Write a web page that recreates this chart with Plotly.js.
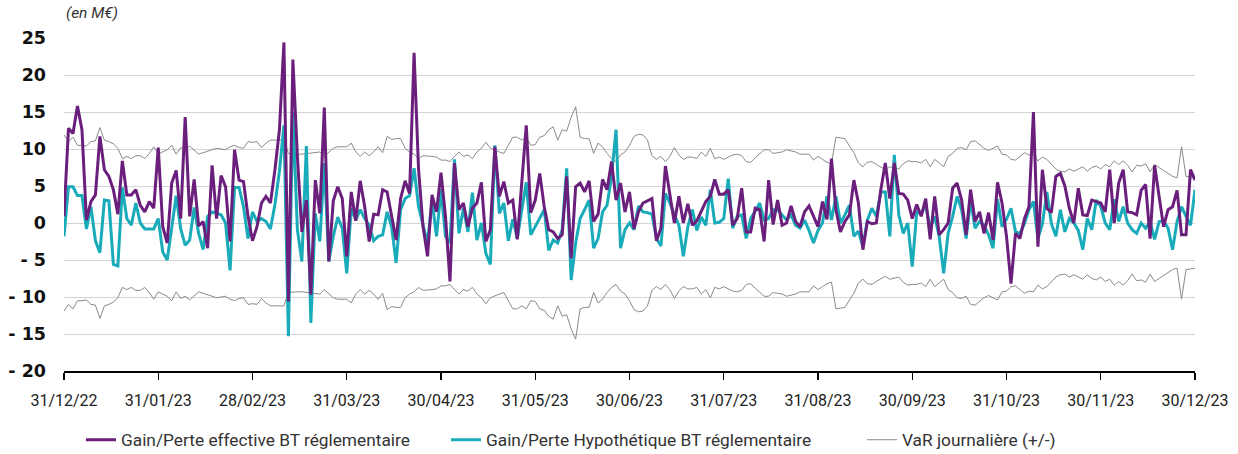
<!DOCTYPE html>
<html>
<head>
<meta charset="utf-8">
<script src="https://cdn.plot.ly/plotly-3.0.1.min.js"></script>
<style>
  html, body { margin: 0; padding: 0; background: #ffffff; }
  #chart { width: 1238px; height: 454px; }
</style>
</head>
<body>
<div id="chart"></div>
<script>
// ---- DATA (in M€), one value per business day, 31/12/22 -> 30/12/23 ----
const xTickLabels = ["31/12/22", "31/01/23", "28/02/23", "31/03/23", "30/04/23", "31/05/23",
  "30/06/23", "31/07/23", "31/08/23", "30/09/23", "31/10/23", "30/11/23", "30/12/23"];

const yTickValues = [25, 20, 15, 10, 5, 0, -5, -10, -15, -20];
const yTickLabels = ["25", "20", "15", "10", "5", "0", "- 5", "- 10", "- 15", "- 20"];

const seriesNames = ["Gain/Perte effective BT réglementaire",
  "Gain/Perte Hypothétique BT réglementaire",
  "VaR journalière (+/-)"];

const gainEffective = [
  0.9, 12.8, 12.1, 15.8, 12.6, 0.4, 2.9, 3.8, 11.7, 7.2, 6.3, 4.5, 1.2, 8.4, 3.8, 3.8,
  4.5, 2.4, 1.5, 2.9, 2.0, 10.2, -0.5, -2.7, 5.4, 7.1, 0.6, 14.3, 0.9, 5.9, -0.4, 0.2,
  -3.4, 7.8, 0.6, 6.4, 4.9, -2.5, 9.9, 5.8, 5.6, 0.9, -2.4, -0.5, 2.7, 3.6, 2.7, 7.2,
  12.6, 24.4, -10.6, 22.1, 9.0, -1.2, 3.1, -9.7, 5.8, 1.3, 15.6, -5.2, 3.0, 4.9, 3.3, -4.5,
  4.2, 0.3, 5.7, 2.2, -2.5, 1.2, 1.1, 4.5, 4.2, 0.9, -2.3, 3.3, 5.7, 4.0, 23.0, 7.2,
  -0.5, -4.5, 3.8, 1.5, 6.8, 0.9, -7.9, 8.1, 1.8, 2.7, -0.5, 2.0, 2.7, 5.5, -2.5, -0.9,
  10.3, 3.6, 5.6, 2.7, 3.1, -2.2, 5.4, 13.2, 1.4, 3.1, 6.7, 2.2, -0.9, -1.2, -2.1, -1.6,
  6.3, -4.8, 4.9, 5.4, 4.2, 5.7, 0.2, 1.2, 5.9, 4.5, 8.3, 3.1, 5.4, 1.5, 4.2, -0.8,
  1.5, 2.7, 3.0, 3.3, -2.4, -0.7, 7.7, 4.0, 0.0, 3.6, 0.0, 2.6, -0.3, 0.3, 1.5, 2.9,
  3.6, 5.9, 3.9, 3.9, 4.5, -0.3, 0.6, 4.7, -1.2, -1.2, 2.0, 1.8, -2.5, 5.8, -0.2,
  3.1, -0.3, 0.0, 2.3, 0.2, -0.5, 1.5, 2.3, 1.0, -0.5, 2.9, 0.5, 8.7, 1.8, -1.2, 0.2,
  1.1, 5.8, 2.7, -3.6, 0.2, -0.1, 0.0, 4.5, 8.1, 3.3, 8.1, 4.0, 3.9, 3.1, 0.6, 2.5,
  0.9, 3.3, -2.2, 3.6, -1.6, -0.9, 0.0, 4.7, 5.4, 3.1, -1.6, 4.5, 0.2, 1.5, -1.4, 1.4,
  -2.3, 5.5, 2.7, -1.8, -8.2, -1.4, -2.1, 0.6, 2.2, 15.0, -3.2, 7.2, 2.0, 1.4, 6.3,
  6.7, 5.0, 2.0, 0.0, 4.7, 1.1, 1.0, 3.1, 2.9, 2.7, 1.5, 7.2, 0.0, 5.4, 7.2, 1.5,
  1.4, 1.1, 4.4, 5.2, -2.1, 7.8, 3.6, -0.5, 1.8, 2.2, 4.4, -1.6, -1.6, 7.2, 5.8
];

const gainHypothetique = [
  -1.8, 4.9, 4.9, 3.7, 3.7, -0.8, 2.2, -2.4, -4.0, 3.1, 3.0, -5.6, -5.8, 4.8, 0.6, -0.3,
  2.7, 0.0, -0.8, -0.8, -0.8, 0.6, -3.9, -5.0, -0.9, 3.7, -0.8, -3.0, -2.3, 2.1, -1.4, -3.6,
  0.9, 1.5, 1.3, 1.1, 0.0, -6.4, 4.8, 4.8, 2.2, -2.1, 1.5, 0.2, 0.6, 0.2, -0.8, 2.5,
  7.0, 13.2, -15.3, 15.0, -0.9, -5.2, 10.4, -13.5, 1.3, -2.5, 8.1, -5.2, -1.8, 0.8, -0.7, -6.8,
  2.0, 0.4, 1.8, 0.6, -0.3, -2.4, -1.8, -1.6, 1.5, -0.5, -5.4, 1.8, 3.3, 3.7, 7.4, 2.2,
  -0.3, -2.7, 3.1, -1.8, 4.5, -1.8, -2.7, 8.6, -1.4, 2.0, -1.2, 4.1, -2.3, 0.0, -4.1, -5.6,
  10.5, 1.3, 2.7, -2.4, 0.5, -2.1, 1.8, 5.5, -1.6, -0.5, 0.8, 1.8, -3.7, -2.3, -2.7, -0.9,
  7.4, -7.7, -2.7, 0.6, 1.8, 3.1, -3.4, -2.1, 1.5, 2.4, 6.3, 12.6, -3.4, -0.9, 0.0, -0.9,
  2.3, 1.5, 1.4, 1.2, -2.1, -3.1, 4.0, 2.7, 1.1, -0.3, -4.5, -0.5, 1.8, -1.0, 0.8, -0.3,
  4.5, 0.0, 0.1, 0.6, 6.0, -0.7, 0.9, 1.1, -2.1, 0.6, 1.6, 2.7, 0.4, 0.6, 1.8,
  1.8, 1.1, 0.4, 1.1, -0.3, -0.7, 0.4, -1.0, -2.7, -1.0, 0.0, 3.6, 0.4, 3.6, 0.0, 1.1,
  2.4, -1.8, -1.1, -3.2, 0.4, 2.0, 0.9, 4.2, 4.2, -1.8, 9.2, 1.1, -1.4, 0.0, -5.9, 1.5,
  1.3, 2.4, -0.7, 0.9, -1.8, -6.8, -1.4, 0.9, 3.6, 1.8, -2.1, 3.1, -0.7, 0.2, -0.3, -1.6,
  -3.4, 3.2, -0.5, 0.5, 2.0, -1.2, -1.4, -0.1, 1.8, 2.9, -2.1, -0.1, 4.2, -0.1, -1.8,
  1.8, -1.2, 0.6, 0.0, -1.0, -3.6, 0.6, -0.9, 3.1, 2.2, 0.0, -0.9, 3.2, 0.2, 2.2, 0.0,
  -0.9, -1.4, 0.0, -0.7, 0.2, -2.2, 0.2, 0.3, -0.7, -3.6, 0.2, 2.2, 0.9, -0.3, 4.5
];

const varJournaliere = [
  11.9, 11.0, 11.6, 10.5, 10.5, 10.4, 11.0, 11.1, 12.9, 11.2, 11.0, 10.7, 10.1, 8.7, 9.0, 8.7,
  9.1, 9.1, 8.7, 9.4, 10.3, 9.3, 9.6, 9.9, 10.5, 9.3, 10.2, 9.9, 10.4, 9.9, 9.3, 9.5,
  9.7, 10.0, 10.1, 10.0, 9.9, 10.3, 10.5, 10.2, 10.1, 11.0, 10.9, 11.0, 10.2, 10.8, 11.2, 11.2,
  11.2, 11.2, 9.4, 9.3, 9.3, 9.3, 9.4, 9.4, 9.5, 9.6, 9.0, 9.6, 10.1, 10.3, 10.3, 10.3,
  10.8, 9.6, 9.0, 9.6, 9.1, 9.6, 10.3, 9.5, 11.7, 11.3, 11.4, 11.4, 10.1, 9.6, 9.3, 8.7,
  9.1, 9.1, 9.0, 8.9, 8.5, 8.5, 8.3, 9.0, 9.6, 9.0, 9.2, 8.7, 9.6, 10.1, 10.9, 10.1,
  9.8, 9.6, 9.4, 10.5, 11.6, 11.6, 11.2, 11.6, 10.5, 10.6, 11.6, 11.8, 12.6, 13.0, 11.2, 12.6,
  12.4, 14.3, 15.7, 11.6, 11.4, 11.4, 9.4, 10.8, 10.3, 9.4, 8.7, 8.3, 9.2, 9.6, 10.5, 11.7,
  12.0, 11.9, 11.2, 9.1, 8.6, 9.0, 8.3, 9.0, 10.2, 9.2, 8.6, 8.9, 8.9, 8.7, 9.6, 9.0,
  10.1, 8.7, 8.9, 8.6, 8.9, 9.2, 9.3, 9.1, 8.3, 8.2, 8.8, 9.4, 9.9, 9.9, 9.4,
  9.5, 9.6, 9.9, 9.8, 9.6, 9.3, 9.3, 9.3, 8.5, 9.0, 8.6, 8.2, 8.0, 11.6, 11.5, 11.4,
  10.4, 9.5, 8.1, 7.6, 8.2, 8.3, 7.9, 7.6, 7.2, 7.6, 7.4, 7.3, 8.0, 8.4, 8.3, 8.3,
  8.1, 8.6, 7.6, 8.6, 8.1, 7.6, 9.0, 9.4, 10.1, 10.2, 9.9, 11.0, 11.1, 10.6, 10.1, 9.8,
  10.1, 10.4, 9.3, 9.2, 8.6, 8.5, 9.0, 9.5, 9.2, 9.3, 8.4, 8.9, 8.6, 7.9, 7.3,
  7.0, 6.9, 7.3, 7.0, 7.3, 7.6, 7.0, 7.5, 7.7, 7.3, 7.9, 7.6, 8.4, 7.9, 8.4, 7.8,
  6.9, 7.8, 7.7, 8.0, 6.9, 7.9, 7.5, 7.1, 6.8, 6.3, 6.1, 10.3, 6.3, 6.2, 6.1
];

// ---- CHART ----
const pointsPerTick = 21;
const xIdx = gainEffective.map((_, i) => i);
const xTickVals = xTickLabels.map((_, k) => k * pointsPerTick);

const purple = "#6b1f7d";
const teal = "#19abb9";
const grey = "#8a8a8a";

const traces = [
  { x: xIdx, y: varJournaliere, type: "scatter", mode: "lines", name: seriesNames[2],
    line: { color: grey, width: 1 }, legend: "legend3" },
  { x: xIdx, y: varJournaliere.map(v => -v), type: "scatter", mode: "lines", name: seriesNames[2],
    line: { color: grey, width: 1 }, showlegend: false, legend: "legend3" },
  { x: xIdx, y: gainHypothetique, type: "scatter", mode: "lines", name: seriesNames[1],
    line: { color: teal, width: 3 }, legend: "legend2" },
  { x: xIdx, y: gainEffective, type: "scatter", mode: "lines", name: seriesNames[0],
    line: { color: purple, width: 3 }, legend: "legend" }
];

const legendFont = { family: "Roboto, sans-serif", size: 17.3, color: "#333333" };
const legendCommon = { orientation: "h", xref: "container", yref: "container",
  yanchor: "middle", xanchor: "left", y: 1 - 440 / 454, font: legendFont,
  bgcolor: "rgba(0,0,0,0)", borderwidth: 0 };

const layout = {
  width: 1238, height: 454,
  margin: { l: 64, r: 43, t: 38, b: 83 },
  paper_bgcolor: "#ffffff", plot_bgcolor: "#ffffff",
  showlegend: true,
  xaxis: {
    range: [0, gainEffective.length - 1],
    tickmode: "array", tickvals: xTickVals, ticktext: xTickLabels,
    ticks: "outside", ticklen: 7, tickwidth: 1.2, tickcolor: "#000000",
    showline: true, linecolor: "#000000", linewidth: 1.5,
    showgrid: false, zeroline: false,
    tickfont: { family: "Roboto, sans-serif", size: 16, color: "#222222" },
    ticklabelstandoff: 7
  },
  yaxis: {
    range: [-20, 25],
    tickmode: "array", tickvals: yTickValues, ticktext: yTickLabels,
    ticks: "", showline: false, zeroline: false,
    showgrid: true, gridcolor: "#d4d4d4", gridwidth: 1,
    tickfont: { family: "DejaVu Sans, sans-serif", size: 17.5, color: "#111111", weight: 700 },
    ticklabelstandoff: 17
  },
  legend: Object.assign({}, legendCommon, { x: 81 / 1238 }),
  legend2: Object.assign({}, legendCommon, { x: 446 / 1238 }),
  legend3: Object.assign({}, legendCommon, { x: 862 / 1238 }),
  annotations: [{
    text: "(en M€)", xref: "paper", yref: "paper", x: 0, y: 1 + 25 / 333,
    xanchor: "left", yanchor: "middle", showarrow: false,
    font: { family: "Roboto, sans-serif", size: 15.5, color: "#333333", style: "italic" }
  }]
};

Plotly.newPlot("chart", traces, layout, { staticPlot: true, displayModeBar: false });
</script>
</body>
</html>
